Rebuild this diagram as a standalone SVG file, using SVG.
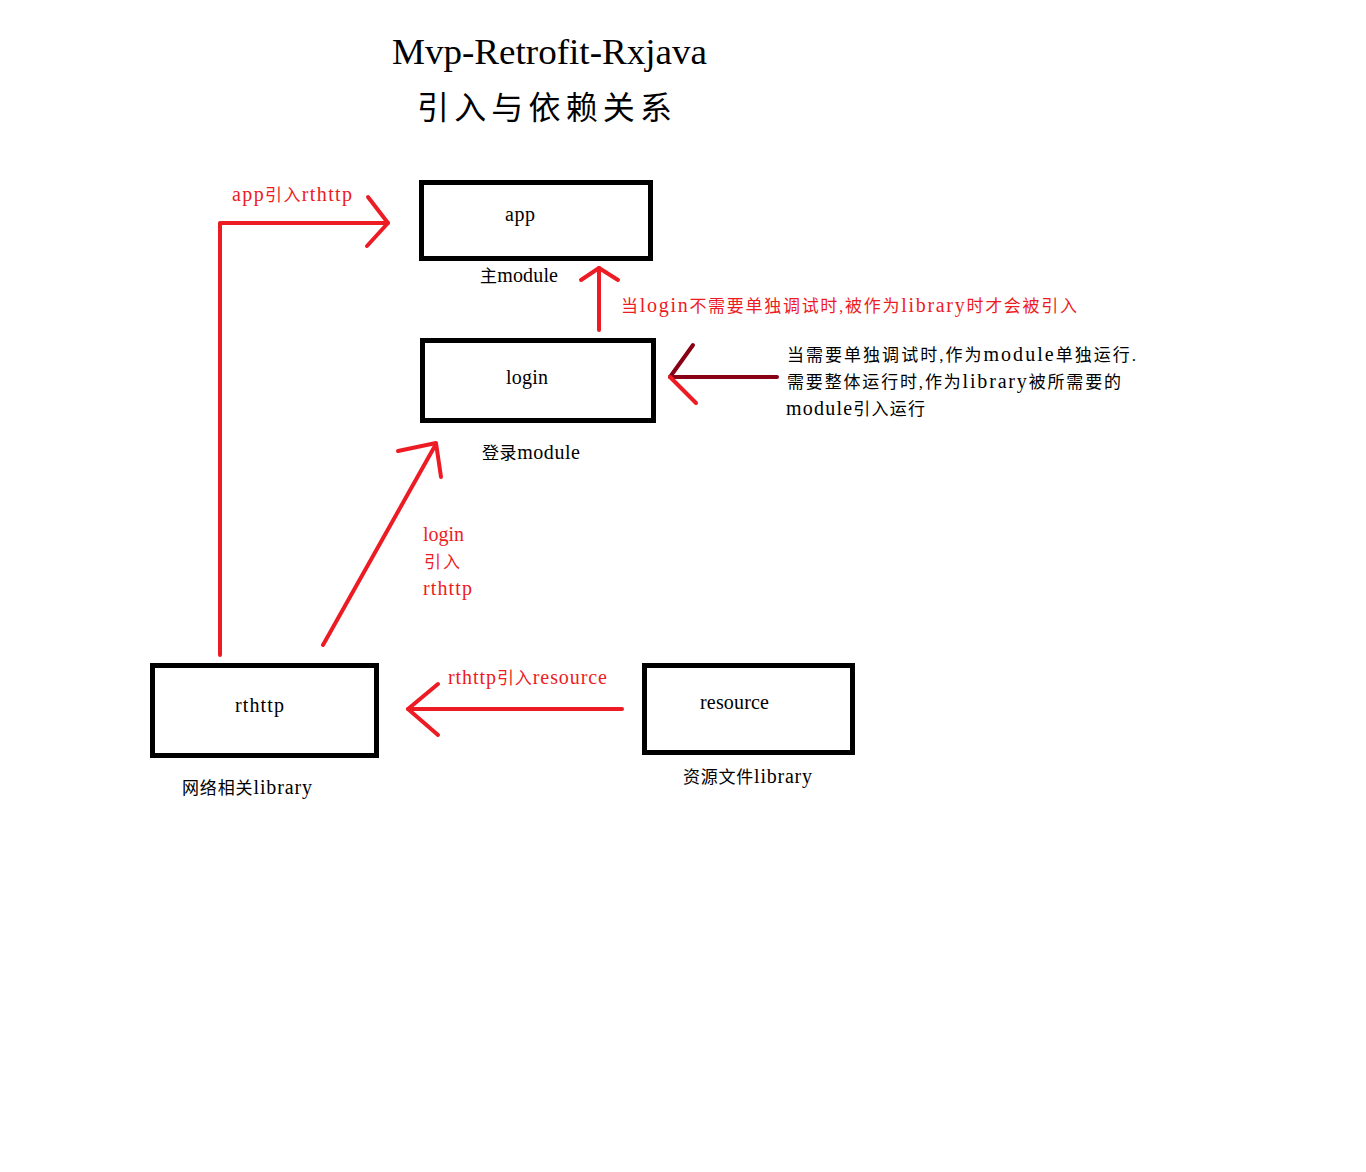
<svg xmlns="http://www.w3.org/2000/svg" width="1366" height="1172" viewBox="0 0 1366 1172">
<style>
.box{fill:none;stroke:#000;stroke-width:5}
.red{fill:none;stroke:#ed1c24;stroke-width:4;stroke-linecap:round;stroke-linejoin:round}
.dark{fill:none;stroke:#880015;stroke-width:4;stroke-linecap:round;stroke-linejoin:round}
text{font-family:"Liberation Serif","Noto Sans CJK SC",serif;font-size:20px;fill:#000}
.c{font-size:17px}
.rt{fill:#ed1c24}
.title{font-size:35px}
.cjk{font-size:32px}
</style>
<rect width="1366" height="1172" fill="#fff"/>
<g id="title">
<text class="title" x="392" y="64" textLength="315" lengthAdjust="spacingAndGlyphs">Mvp-Retrofit-Rxjava</text>
<text class="cjk" x="417" y="119" textLength="255" lengthAdjust="spacing">引入与依赖关系</text>
</g>
<g id="connectors">
<polyline class="red" points="220,655 220,223 388,223"/>
<polyline class="red" points="368,197 388,223 367,246"/>
<line class="red" x1="599" y1="330" x2="599" y2="268"/>
<polyline class="red" points="581,280 599,268 618,280"/>
<line class="red" x1="323" y1="645" x2="436" y2="444"/>
<polyline class="red" points="398,451 436,443 441,477"/>
<line class="red" x1="622" y1="709" x2="408" y2="709"/>
<polyline class="red" points="438,684 408,709 438,735"/>
<line class="dark" x1="777" y1="377" x2="670" y2="377"/>
<polyline class="dark" points="693,345 670,377"/>
<line class="red" x1="670" y1="377" x2="696" y2="403"/>
</g>
<g id="edge-labels">
<text class="rt" x="232" y="201" textLength="120" lengthAdjust="spacing">app<tspan class="c">引入</tspan>rthttp</text>
<text class="rt" x="621" y="312" textLength="456" lengthAdjust="spacing"><tspan class="c">当</tspan>login<tspan class="c">不需要单独调试时,被作为</tspan>library<tspan class="c">时才会被引入</tspan></text>
<text class="rt" x="423" y="541" textLength="41" lengthAdjust="spacing">login</text>
<text class="rt" x="424" y="568" textLength="36" lengthAdjust="spacing"><tspan class="c">引入</tspan></text>
<text class="rt" x="423" y="595" textLength="49" lengthAdjust="spacing">rthttp</text>
<text class="rt" x="448" y="684" textLength="159" lengthAdjust="spacing">rthttp<tspan class="c">引入</tspan>resource</text>
</g>
<g id="note">
<text x="787" y="361" textLength="349" lengthAdjust="spacing"><tspan class="c">当需要单独调试时,作为</tspan>module<tspan class="c">单独运行.</tspan></text>
<text x="787" y="388" textLength="334" lengthAdjust="spacing"><tspan class="c">需要整体运行时,作为</tspan>library<tspan class="c">被所需要的</tspan></text>
<text x="786" y="415" textLength="139" lengthAdjust="spacing">module<tspan class="c">引入运行</tspan></text>
</g>
<g id="node-app">
<rect class="box" x="421.5" y="182.5" width="229" height="76"/>
<text x="505" y="221" textLength="30" lengthAdjust="spacing">app</text>
<text x="480" y="282" textLength="78" lengthAdjust="spacing"><tspan class="c">主</tspan>module</text>
</g>
<g id="node-login">
<rect class="box" x="422.5" y="340.5" width="231" height="80"/>
<text x="506" y="384" textLength="42" lengthAdjust="spacing">login</text>
<text x="482" y="459" textLength="98" lengthAdjust="spacing"><tspan class="c">登录</tspan>module</text>
</g>
<g id="node-rthttp">
<rect class="box" x="152.5" y="665.5" width="224" height="90"/>
<text x="235" y="712" textLength="49" lengthAdjust="spacing">rthttp</text>
<text x="182" y="794" textLength="130" lengthAdjust="spacing"><tspan class="c">网络相关</tspan>library</text>
</g>
<g id="node-resource">
<rect class="box" x="644.5" y="665.5" width="208" height="87"/>
<text x="700" y="709" textLength="69" lengthAdjust="spacing">resource</text>
<text x="683" y="783" textLength="129" lengthAdjust="spacing"><tspan class="c">资源文件</tspan>library</text>
</g>
</svg>
